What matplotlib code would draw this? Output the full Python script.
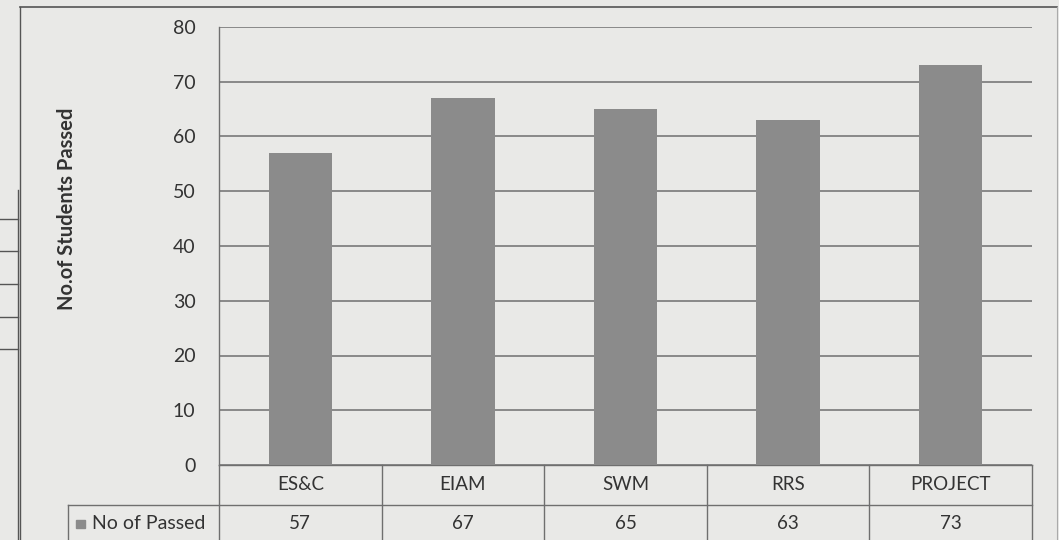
import numpy as np
import matplotlib.pyplot as plt
from matplotlib.lines import Line2D
from matplotlib.patches import Rectangle

plt.rcParams['font.family'] = ['Lato', 'DejaVu Sans']

# Datos
subjects = ['ES&C', 'EIAM', 'SWM', 'RRS', 'PROJECT']
passed = [57, 67, 65, 63, 73]
series_name = 'No of Passed'
y_ticks = [0, 10, 20, 30, 40, 50, 60, 70, 80]

bg = '#e9e9e7'
bar_color = '#8b8b8b'
line_color = '#6f6f6f'
text_color = '#333333'

fig = plt.figure(figsize=(10.59, 5.40), dpi=100, facecolor=bg)
ax = fig.add_axes([219 / 1059, 75 / 540, 813 / 1059, 438 / 540])
ax.set_facecolor(bg)

x = np.arange(len(subjects))
ax.bar(x, passed, width=0.39, color=bar_color, zorder=3)

ax.set_xlim(-0.5, len(subjects) - 0.5)
ax.set_ylim(0, 80)
ax.set_yticks(y_ticks)
ax.set_xticks([])
ax.tick_params(axis='y', length=0, pad=17, labelsize=14, labelcolor=text_color)
ax.grid(axis='y', color=line_color, linewidth=1.1, zorder=0)
for s in ['top', 'right', 'bottom']:
    ax.spines[s].set_visible(False)
ax.spines['left'].set_color(line_color)
ax.spines['left'].set_linewidth(1.0)

ax.set_ylabel('No.of Students Passed', fontsize=14.5, fontweight='bold', color=text_color)
ax.yaxis.set_label_coords(-0.175, 0.584)

# Tabla de datos bajo el eje
trans = ax.get_xaxis_transform()
row_h = 40 / 438
y0, y1, y2 = 0.0, -row_h, -2.2 * row_h
left_edge = -0.5 - (219 - 68) / 162.6
lw = 1.0
ax.add_line(Line2D([-0.5, len(subjects) - 0.5], [y0, y0], transform=trans, color=line_color, lw=lw, clip_on=False))
ax.add_line(Line2D([left_edge, len(subjects) - 0.5], [y1, y1], transform=trans, color=line_color, lw=lw, clip_on=False))
ax.add_line(Line2D([left_edge, left_edge], [y1, y2], transform=trans, color=line_color, lw=lw, clip_on=False))
for i in range(len(subjects) + 1):
    ax.add_line(Line2D([i - 0.5, i - 0.5], [y0, y2], transform=trans, color=line_color, lw=lw, clip_on=False))
for i, (s, v) in enumerate(zip(subjects, passed)):
    ax.text(i, (y0 + y1) / 2, s, transform=trans, ha='center', va='center', fontsize=13.5, color=text_color)
    ax.text(i, y1 - 0.043, str(v), transform=trans, ha='center', va='center', fontsize=13.5, color=text_color)
ax.add_patch(Rectangle((left_edge + 0.05, y1 - 0.052), 0.055, 0.018, transform=trans, color=bar_color, clip_on=False))
ax.text(left_edge + 0.15, y1 - 0.043, series_name, transform=trans, ha='left', va='center', fontsize=14, color=text_color)

# Borde del gráfico y marcas de la página
fig.add_artist(Line2D([20 / 1059, 1057 / 1059], [1 - 7 / 540, 1 - 7 / 540], color='#555555', lw=1.2))
fig.add_artist(Line2D([20 / 1059, 20 / 1059], [0, 1 - 7 / 540], color='#555555', lw=1.0))
fig.add_artist(Line2D([1057 / 1059, 1057 / 1059], [0, 1 - 7 / 540], color='#aaaaaa', lw=0.8))
for yy in [219, 251, 284, 317, 349]:
    fig.add_artist(Line2D([0, 18 / 1059], [1 - yy / 540, 1 - yy / 540], color='#555555', lw=1.0))
fig.add_artist(Line2D([18 / 1059, 18 / 1059], [0, 1 - 190 / 540], color='#555555', lw=1.0))

fig.savefig('out.png', dpi=100, facecolor=bg)
